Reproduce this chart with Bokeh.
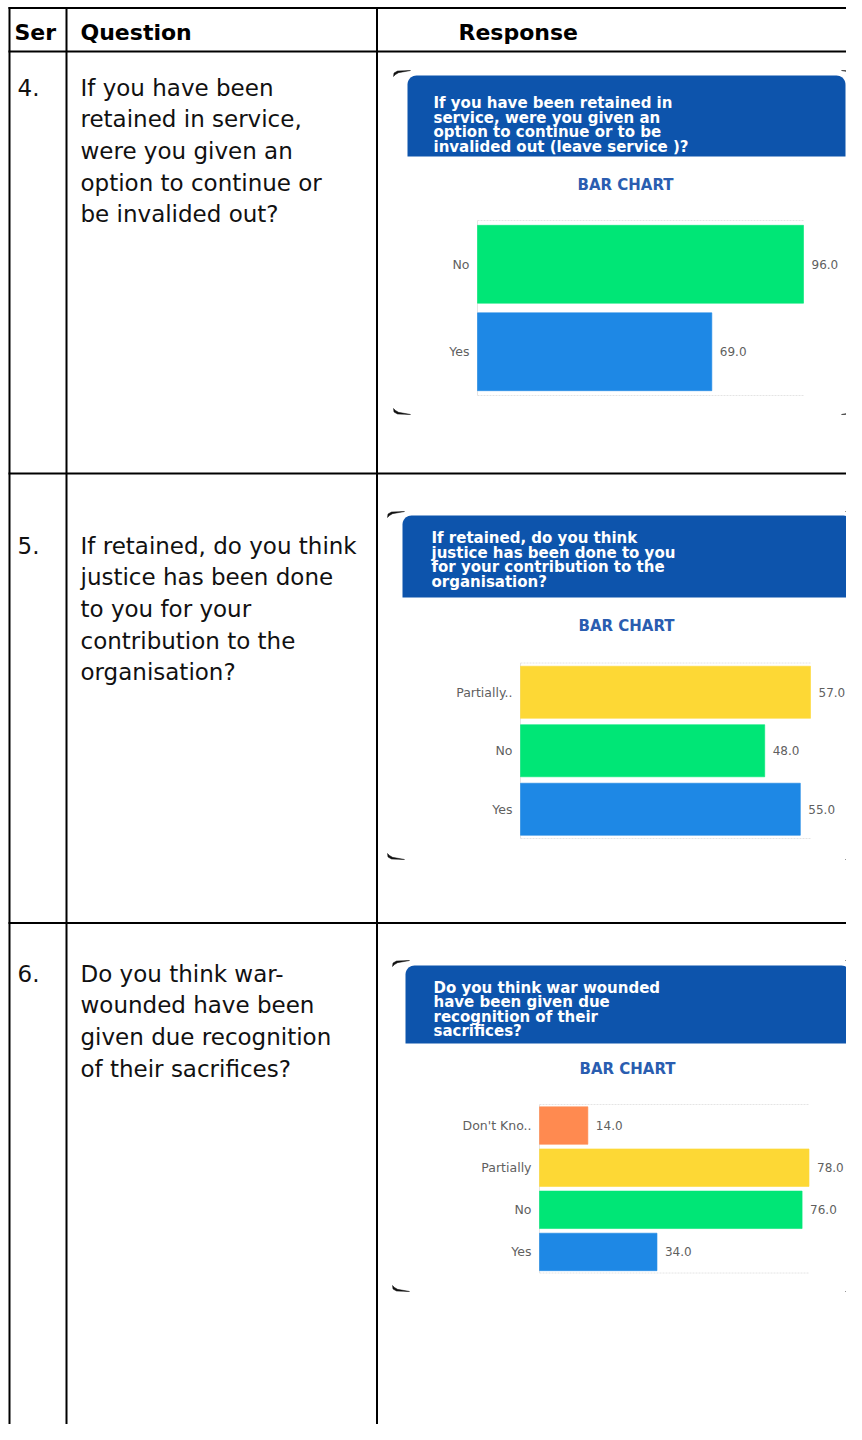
import numpy as np
from bokeh.plotting import figure
from bokeh.models import Range1d, ColumnDataSource
from bokeh.core.properties import value
from bokeh.embed import file_html
from bokeh.resources import INLINE

# ---------------- data ----------------
header_labels = ["Ser", "Question", "Response"]
serials = ["4.", "5.", "6."]
question_lines = [
    ["If you have been", "retained in service,", "were you given an",
     "option to continue or", "be invalided out?"],
    ["If retained, do you think", "justice has been done", "to you for your",
     "contribution to the", "organisation?"],
    ["Do you think war-", "wounded have been", "given due recognition",
     "of their sacrifices?"],
]
chart_titles = [
    ["If you have been retained in", "service, were you given an",
     "option to continue or to be", "invalided out (leave service )?"],
    ["If retained, do you think", "justice has been done to you",
     "for your contribution to the", "organisation?"],
    ["Do you think war wounded", "have been given due",
     "recognition of their", "sacrifices?"],
]
chart_kind = "BAR CHART"

cats_q4 = ["Yes", "No"]
vals_q4 = [69, 96]
cats_q5 = ["Yes", "No", "Partially.."]
vals_q5 = [55, 48, 57]
cats_q6 = ["Yes", "No", "Partially", "Don't Kno.."]
vals_q6 = [34, 76, 78, 14]

cat_colors = {"Yes": "#1E88E5", "No": "#00E676", "Partially..": "#FDD835",
              "Partially": "#FDD835", "Don't Kno..": "#FF8A50"}

# ---------------- layout (picture pixels) ----------------
X0, X1, Y0, Y1 = 0, 846, 0, 1424
T_LEFT, T_C1, T_C2 = 9, 66, 376.5
T_TOP, T_HEAD = 7.5, 51
ROW_BOTTOMS = [473, 922.5]
row_first_baselines = [87, 545, 973]
LINE_PITCH = 31.7

specs = [
    dict(frame=(393, 858, 70, 414), box=(407, 845, 75, 156), tx=433,
         tb=[102.5, 117, 131.5, 146], sub=(625, 184), plot=(477, 803, 220, 395)),
    dict(frame=(387, 862, 511, 859), box=(402, 852, 515, 597), tx=431,
         tb=[537, 552, 566.5, 581.5], sub=(626, 625), plot=(520, 810, 662.5, 838)),
    dict(frame=(392, 862, 960, 1291), box=(405, 850, 965, 1043), tx=433,
         tb=[987, 1001.5, 1016, 1030.5], sub=(627, 1068), plot=(539, 808.5, 1104, 1272.5)),
]
charts = [(cats_q4, vals_q4), (cats_q5, vals_q5), (cats_q6, vals_q6)]

BOX_BLUE = "#0D54AC"
SUB_BLUE = "#2A5DB0"
LABEL_GREY = "#5f5f5f"

p = figure(width=846, height=1424, x_range=Range1d(X0, X1), y_range=Range1d(Y1, Y0),
           output_backend="svg", toolbar_location=None, min_border=0,
           x_axis_location=None, y_axis_location=None)
p.grid.visible = False
p.outline_line_color = None
p.background_fill_color = "white"
p.border_fill_color = "white"

xr_map, yr_map = {}, {}
for i, ((cats, vals), sp) in enumerate(zip(charts, specs)):
    L, R, T, B = sp["plot"]
    vmax = max(vals)
    s = (R - L) / vmax
    n = len(cats)
    h = (B - T) / n
    xr_map[f"cx{i}"] = Range1d((X0 - L) / s, (X1 - L) / s)
    yr_map[f"cy{i}"] = Range1d((B - Y1) / h, (B - Y0) / h)
p.extra_x_ranges = xr_map
p.extra_y_ranges = yr_map


def rounded_top(l, r, t, b, rad):
    th = np.linspace(0, np.pi / 2, 10)
    xs = list(l + rad - rad * np.cos(th)) + list(r - rad + rad * np.sin(th)) + [r, l]
    ys = list(t + rad - rad * np.sin(th)) + list(t + rad - rad * np.cos(th)) + [b, b]
    return xs, ys


mark_shape = [(0, 6), (0.5, 2.5), (4, 0.5), (17, 0), (5, 2.2), (2, 4)]

for i, ((cats, vals), sp) in enumerate(zip(charts, specs)):
    xn, yn = f"cx{i}", f"cy{i}"
    n = len(cats)
    vmax = max(vals)
    src = ColumnDataSource(dict(
        y=[k + 0.5 for k in range(n)], v=vals, cat=cats,
        col=[cat_colors[c] for c in cats], lbl=[f"{v:.1f}" for v in vals]))
    # faint grid / axis
    p.segment(x0=[0, 0], x1=[vmax, vmax], y0=[0, n], y1=[0, n], line_color="#e4e4e4",
              line_width=1, line_dash="2 1", x_range_name=xn, y_range_name=yn)
    p.segment(x0=[0], x1=[0], y0=[0], y1=[n], line_color="#e4e4e4", line_width=1,
              x_range_name=xn, y_range_name=yn)
    p.hbar(y="y", left=0, right="v", height=0.89, fill_color="col", line_color="col",
           line_alpha=0.6, source=src, x_range_name=xn, y_range_name=yn)
    p.text(x=0, y="y", text="cat", x_offset=-8, text_align="right", text_baseline="middle",
           text_font=value("DejaVu Sans"), text_font_size="12.5px", text_color=LABEL_GREY,
           source=src, x_range_name=xn, y_range_name=yn)
    p.text(x="v", y="y", text="lbl", x_offset=8, text_align="left", text_baseline="middle",
           text_font=value("DejaVu Sans"), text_font_size="12px", text_color=LABEL_GREY,
           source=src, x_range_name=xn, y_range_name=yn)
    # blue header box
    bl, br, bt, bb = sp["box"]
    bxs, bys = rounded_top(bl, br, bt, bb, 9)
    p.patch(bxs, bys, fill_color=BOX_BLUE, line_color=None)
    p.text(x=[sp["tx"]] * len(chart_titles[i]), y=sp["tb"], text=chart_titles[i],
           text_font=value("DejaVu Sans"), text_font_style="bold", text_font_size="15px",
           text_color="white", text_baseline="alphabetic", text_align="left")
    p.text(x=[sp["sub"][0]], y=[sp["sub"][1]], text=[chart_kind], text_align="center",
           text_baseline="middle", text_font=value("DejaVu Sans"), text_font_style="bold",
           text_font_size="15px", text_color=SUB_BLUE)
    # screenshot corner marks
    fl, fr, ft, fb = sp["frame"]
    mxs, mys = [], []
    for cx, cy, sx, sy in [(fl, ft, 1, 1), (fr, ft, -1, 1), (fl, fb, 1, -1), (fr, fb, -1, -1)]:
        mxs.append([cx + sx * dx for dx, dy in mark_shape])
        mys.append([cy + sy * dy for dx, dy in mark_shape])
    p.patches(mxs, mys, fill_color="#111111", line_color="#111111", line_width=0.5)

# ---------------- table grid ----------------
hx0 = [T_LEFT - 1] * (2 + len(ROW_BOTTOMS))
hx1 = [X1 + 20] * (2 + len(ROW_BOTTOMS))
hy = [T_TOP, T_HEAD] + ROW_BOTTOMS
p.segment(x0=hx0, x1=hx1, y0=hy, y1=hy, line_color="black", line_width=2)
vx = [T_LEFT, T_C1, T_C2]
p.segment(x0=vx, x1=vx, y0=[T_TOP - 1] * 3, y1=[Y1 + 20] * 3, line_color="black", line_width=2)

# header text
p.text(x=[14, 80, 458], y=[32, 32, 32], text=header_labels, text_font=value("DejaVu Sans"),
       text_font_style="bold", text_font_size="22px", text_color="black",
       text_baseline="alphabetic")

# serials and questions
for i in range(3):
    b0 = row_first_baselines[i]
    p.text(x=[17], y=[b0], text=[serials[i]], text_font=value("DejaVu Sans"),
           text_font_size="23px", text_color="#111111", text_baseline="alphabetic")
    lines = question_lines[i]
    p.text(x=[80] * len(lines), y=[b0 + k * LINE_PITCH for k in range(len(lines))], text=lines,
           text_font=value("DejaVu Sans"), text_font_size="23px", text_color="#111111",
           text_baseline="alphabetic")

open("out.html", "w").write(file_html(p, INLINE))
